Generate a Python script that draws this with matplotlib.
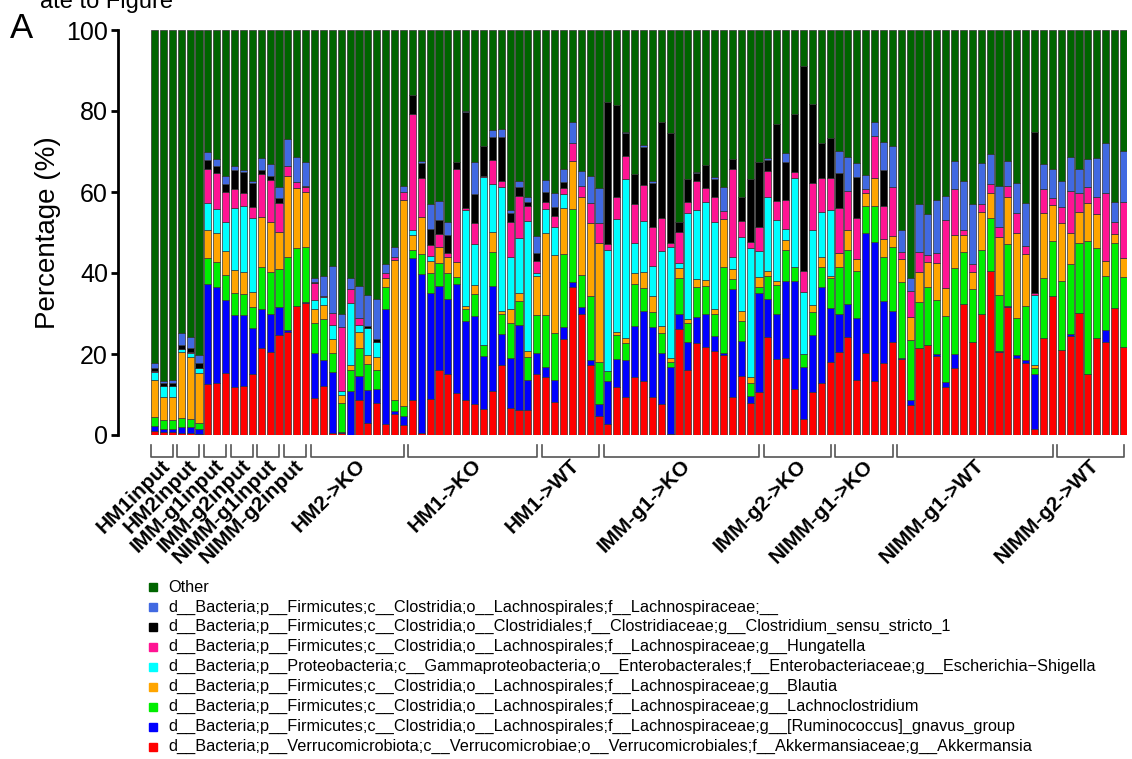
import numpy as np
import matplotlib.pyplot as plt
from matplotlib.lines import Line2D
from matplotlib.transforms import blended_transform_factory

plt.rcParams['font.family'] = ['Liberation Sans', 'DejaVu Sans']

W, H = 1132, 759

###### groups (sample blocks along x) ######
groups = ["HM1input", "HM2input", "IMM-g1input", "IMM-g2input", "NIMM-g1input", "NIMM-g2input",
          "HM2->KO", "HM1->KO", "HM1->WT", "IMM-g1->KO", "IMM-g2->KO", "NIMM-g1->KO",
          "NIMM-g1->WT", "NIMM-g2->WT"]
group_sizes = [3, 3, 3, 3, 3, 3, 11, 15, 7, 18, 8, 7, 18, 8]

###### upper edge (%) of each taxon in the stack ######
akkermansia_top = [
    1.1, 0.8, 0.8, 0.4, 0.4, 0.3, 12.5, 12.9, 15.4, 11.8,
    12.1, 15.0, 21.4, 20.6, 24.7, 25.5, 31.9, 32.5, 9.2, 12.1,
    0.4, 0.5, 0.0, 8.6, 3.0, 7.8, 2.7, 5.3, 2.5, 8.6,
    0.4, 8.8, 16.0, 15.1, 10.3, 8.6, 7.7, 6.3, 10.9, 17.3,
    6.7, 6.2, 6.2, 15.1, 14.4, 8.2, 23.7, 36.6, 29.9, 17.4,
    4.8, 2.6, 11.9, 9.5, 14.2, 13.4, 9.5, 7.6, 0.2, 26.1,
    16.0, 22.6, 21.8, 20.7, 19.8, 9.3, 14.6, 8.0, 10.7, 24.3,
    18.7, 18.9, 11.3, 3.9, 10.5, 12.8, 18.1, 20.4, 24.3, 13.7,
    20.2, 13.4, 17.7, 23.0, 18.7, 7.4, 21.6, 22.2, 19.5, 11.9,
    16.6, 32.3, 23.0, 29.9, 40.6, 20.4, 31.5, 18.9, 17.7, 1.6,
    24.0, 34.2, 21.0, 24.4, 30.2, 15.1, 23.9, 23.0, 31.3, 21.8]
gnavus_top = [
    2.1, 1.4, 1.4, 1.9, 1.9, 1.4, 37.4, 36.6, 33.3, 29.6,
    29.6, 26.3, 31.0, 30.0, 31.7, 25.9, 31.9, 32.9, 20.3, 18.5,
    15.6, 0.8, 10.9, 14.6, 11.1, 11.3, 31.0, 6.0, 4.7, 43.6,
    39.8, 35.0, 36.8, 33.5, 37.4, 28.1, 29.5, 19.5, 36.9, 24.9,
    18.9, 27.2, 13.6, 20.2, 16.9, 13.7, 26.6, 37.9, 31.5, 18.5,
    7.6, 13.4, 18.7, 18.4, 26.9, 30.5, 26.7, 20.2, 16.9, 30.0,
    23.0, 29.2, 29.8, 24.4, 20.2, 36.0, 23.3, 9.6, 35.0, 33.7,
    30.0, 38.1, 38.1, 16.9, 24.7, 36.6, 31.3, 29.9, 32.3, 29.0,
    49.8, 47.7, 33.1, 30.5, 18.9, 8.7, 21.6, 22.2, 20.0, 13.0,
    19.9, 32.3, 23.0, 29.9, 40.6, 20.8, 31.9, 19.8, 18.4, 15.1,
    24.0, 34.2, 21.0, 25.0, 30.2, 15.1, 23.9, 25.9, 31.3, 21.8]
lachnoclostridium_top = [
    4.5, 3.7, 3.7, 4.1, 3.9, 3.0, 43.6, 42.8, 39.5, 35.1,
    34.8, 31.7, 41.4, 40.2, 40.9, 44.0, 46.1, 46.5, 27.7, 28.6,
    20.3, 8.0, 16.0, 21.4, 17.5, 16.0, 36.5, 8.6, 7.2, 45.8,
    44.7, 39.9, 42.4, 39.9, 38.9, 31.0, 34.8, 22.2, 45.1, 29.9,
    27.6, 33.1, 19.3, 29.6, 29.6, 25.3, 44.6, 55.7, 39.5, 34.2,
    18.1, 15.9, 24.7, 22.8, 37.4, 36.2, 30.3, 25.1, 18.1, 38.7,
    27.6, 36.6, 36.9, 29.8, 41.4, 38.4, 28.1, 12.8, 36.6, 39.3,
    37.0, 45.7, 41.6, 19.9, 30.3, 41.6, 38.7, 41.6, 45.8, 40.6,
    56.5, 56.6, 43.9, 46.3, 37.9, 23.5, 32.9, 36.6, 33.3, 29.4,
    41.2, 45.3, 36.0, 45.7, 53.7, 34.6, 47.2, 28.8, 31.9, 16.5,
    38.7, 48.0, 38.1, 42.2, 47.5, 48.0, 46.1, 39.3, 47.5, 39.1]
blautia_top = [
    13.6, 9.5, 9.5, 20.6, 19.3, 15.4, 50.6, 50.0, 45.5, 40.7,
    40.3, 35.4, 53.9, 52.7, 50.1, 64.0, 60.9, 59.9, 31.0, 32.1,
    23.6, 9.9, 17.3, 25.5, 19.8, 19.2, 38.8, 43.2, 58.0, 49.5,
    53.9, 43.0, 46.3, 43.9, 42.8, 31.9, 37.0, 22.2, 50.2, 30.6,
    31.0, 35.0, 20.8, 39.3, 49.8, 44.4, 56.0, 67.7, 58.7, 52.3,
    47.5, 15.9, 25.5, 23.9, 39.9, 40.3, 34.3, 26.9, 18.9, 41.2,
    28.6, 38.5, 38.3, 31.0, 53.3, 40.9, 30.5, 14.4, 39.1, 40.6,
    38.0, 48.1, 41.6, 19.9, 32.1, 44.0, 39.3, 45.0, 50.6, 43.4,
    59.8, 63.4, 48.4, 49.1, 43.4, 29.1, 40.2, 42.8, 42.4, 36.2,
    49.4, 49.4, 40.3, 55.1, 59.7, 48.8, 58.8, 50.0, 44.6, 17.3,
    54.9, 56.8, 52.4, 50.0, 55.1, 57.4, 54.6, 43.0, 49.6, 43.6]
escherichia_top = [
    15.6, 12.1, 12.1, 21.2, 20.3, 16.5, 57.2, 55.8, 52.7, 56.0,
    56.5, 53.5, 53.9, 52.7, 50.1, 64.0, 60.9, 59.9, 33.3, 34.0,
    27.2, 10.9, 32.5, 27.2, 26.3, 23.0, 38.8, 43.2, 58.0, 50.6,
    53.9, 44.2, 46.3, 43.9, 42.8, 55.6, 47.1, 63.6, 62.0, 61.2,
    43.9, 48.7, 52.9, 40.1, 55.8, 51.4, 59.5, 67.7, 58.7, 52.3,
    47.5, 45.8, 53.3, 63.1, 47.5, 52.8, 41.8, 45.5, 46.3, 42.4,
    54.7, 55.6, 57.6, 52.7, 53.3, 43.9, 49.0, 46.1, 45.5, 58.7,
    53.1, 50.8, 63.4, 35.4, 50.6, 55.1, 55.6, 45.0, 50.6, 43.4,
    59.8, 63.4, 48.4, 49.1, 43.4, 29.1, 40.2, 42.8, 42.4, 36.2,
    49.4, 49.4, 40.3, 55.1, 59.7, 48.8, 58.8, 50.0, 44.6, 34.6,
    54.9, 56.8, 52.4, 50.0, 55.1, 57.4, 54.6, 43.0, 49.6, 43.6]
hungatella_top = [
    15.8, 12.2, 12.2, 21.3, 20.4, 16.6, 65.8, 64.6, 59.9, 60.7,
    59.8, 56.2, 64.4, 63.0, 57.4, 66.3, 62.4, 61.3, 37.6, 34.2,
    30.2, 26.7, 36.0, 28.8, 26.3, 23.0, 39.9, 44.0, 60.1, 79.2,
    63.4, 46.9, 49.6, 44.9, 65.7, 56.1, 52.4, 64.0, 67.9, 62.7,
    52.7, 59.0, 56.5, 43.0, 57.6, 54.1, 60.9, 72.2, 61.6, 57.2,
    52.3, 47.2, 58.7, 68.9, 57.0, 61.7, 51.3, 53.7, 47.3, 50.2,
    57.6, 62.8, 60.9, 58.8, 55.4, 65.7, 52.9, 47.7, 51.4, 65.2,
    57.8, 58.0, 65.0, 40.6, 62.1, 63.4, 63.4, 56.0, 60.3, 53.7,
    60.7, 73.8, 56.5, 61.3, 45.3, 35.5, 45.3, 44.4, 45.0, 53.1,
    60.7, 50.6, 42.2, 57.0, 62.0, 51.4, 61.6, 54.7, 46.7, 35.0,
    60.7, 58.4, 56.4, 60.3, 59.7, 61.3, 58.8, 59.7, 52.7, 57.6]
clostridium_top = [
    16.5, 12.8, 12.8, 22.2, 21.4, 17.7, 67.9, 66.5, 62.0, 65.4,
    65.0, 62.3, 65.4, 64.0, 58.6, 66.3, 62.4, 61.5, 37.7, 34.2,
    30.2, 26.7, 36.0, 28.8, 26.9, 23.8, 39.9, 44.0, 60.1, 84.0,
    67.2, 50.8, 53.1, 49.5, 67.5, 79.7, 59.5, 71.4, 73.5, 73.7,
    54.9, 61.2, 57.6, 45.0, 59.9, 56.4, 62.4, 72.2, 61.6, 57.2,
    52.3, 82.1, 81.5, 74.5, 64.4, 71.0, 62.1, 77.4, 74.5, 52.5,
    63.2, 64.6, 66.7, 63.1, 55.4, 68.1, 58.8, 63.1, 67.5, 67.9,
    76.8, 67.5, 79.2, 91.1, 81.7, 72.0, 73.3, 64.8, 60.3, 63.8,
    60.7, 73.8, 65.4, 61.3, 45.3, 35.5, 45.3, 44.4, 45.0, 53.1,
    60.7, 50.6, 42.2, 57.0, 62.0, 51.4, 61.6, 54.7, 46.7, 74.7,
    60.7, 58.4, 56.4, 60.3, 59.7, 61.3, 58.8, 59.7, 52.7, 57.6]
lachno_unclass_top = [
    17.7, 13.4, 13.6, 25.1, 24.1, 19.8, 69.8, 68.1, 63.9, 66.3,
    65.4, 62.6, 68.5, 66.9, 61.3, 73.1, 68.7, 67.5, 38.7, 39.3,
    41.7, 29.9, 38.8, 36.9, 34.6, 33.7, 42.2, 46.3, 61.5, 84.0,
    67.7, 57.0, 57.8, 52.7, 67.5, 80.0, 67.5, 71.4, 75.3, 75.6,
    55.6, 62.8, 58.7, 49.1, 63.0, 59.7, 65.8, 77.2, 65.3, 64.0,
    60.9, 82.1, 81.5, 74.9, 64.4, 71.6, 62.8, 77.4, 74.5, 52.5,
    63.2, 65.0, 66.7, 63.8, 61.3, 68.1, 58.8, 63.1, 67.5, 68.3,
    76.8, 69.7, 79.2, 91.1, 81.7, 72.0, 73.3, 70.2, 68.7, 67.2,
    64.2, 77.4, 72.4, 71.4, 50.5, 38.7, 57.0, 54.6, 58.0, 59.0,
    67.7, 62.8, 57.0, 67.1, 69.5, 61.5, 67.7, 62.1, 57.2, 74.7,
    66.9, 65.8, 62.8, 68.7, 65.6, 68.1, 68.3, 72.0, 57.6, 70.2]

# stack order bottom -> top, "Other" fills up to 100
taxa = [
    "d__Bacteria;p__Verrucomicrobiota;c__Verrucomicrobiae;o__Verrucomicrobiales;f__Akkermansiaceae;g__Akkermansia",
    "d__Bacteria;p__Firmicutes;c__Clostridia;o__Lachnospirales;f__Lachnospiraceae;g__[Ruminococcus]_gnavus_group",
    "d__Bacteria;p__Firmicutes;c__Clostridia;o__Lachnospirales;f__Lachnospiraceae;g__Lachnoclostridium",
    "d__Bacteria;p__Firmicutes;c__Clostridia;o__Lachnospirales;f__Lachnospiraceae;g__Blautia",
    "d__Bacteria;p__Proteobacteria;c__Gammaproteobacteria;o__Enterobacterales;f__Enterobacteriaceae;g__Escherichia\u2212Shigella",
    "d__Bacteria;p__Firmicutes;c__Clostridia;o__Lachnospirales;f__Lachnospiraceae;g__Hungatella",
    "d__Bacteria;p__Firmicutes;c__Clostridia;o__Clostridiales;f__Clostridiaceae;g__Clostridium_sensu_stricto_1",
    "d__Bacteria;p__Firmicutes;c__Clostridia;o__Lachnospirales;f__Lachnospiraceae;__",
    "Other",
]
colors = ["#FF0000", "#0000FF", "#00EE00", "#FFA500", "#00FFFF", "#FF1493", "#000000", "#4169E1", "#006400"]

tops = np.array([akkermansia_top, gnavus_top, lachnoclostridium_top, blautia_top, escherichia_top,
                 hungatella_top, clostridium_top, lachno_unclass_top])
n = tops.shape[1]
edges = np.vstack([np.zeros(n), tops, np.full(n, 100.0)])

fig = plt.figure(figsize=(W / 100, H / 100), dpi=100)
ax = fig.add_axes([151 / W, 1 - 435 / H, (1127 - 151) / W, 405 / H])

x = np.arange(n)
for k in range(len(taxa)):
    ax.bar(x, edges[k + 1] - edges[k], bottom=edges[k], width=0.8, color=colors[k],
           edgecolor="#333333", linewidth=0.5)

ax.set_xlim(-0.4, n - 0.6)
ax.set_ylim(0, 100)
ax.set_xticks([])
for s in ["top", "right", "bottom"]:
    ax.spines[s].set_visible(False)
ax.spines["left"].set_position(("outward", 24))
ax.spines["left"].set_linewidth(2)
ax.spines["left"].set_bounds(0, 100)
ax.set_yticks([0, 20, 40, 60, 80, 100])
ax.tick_params(axis="y", labelsize=18, width=2, length=5, pad=2)
ax.set_ylabel("Percentage (%)", fontsize=20, labelpad=4)

# group brackets + rotated labels
tr = blended_transform_factory(ax.transData, ax.transAxes)
y_top = (435 - 445) / 405
y_bot = (435 - 457) / 405
start = 0
for name, size in zip(groups, group_sizes):
    x0 = start - 0.45
    x1 = start + size - 1 + 0.05
    ax.plot([x0, x0, x1, x1], [y_top, y_bot, y_bot, y_top], color="#555555", lw=1.2,
            transform=tr, clip_on=False)
    xc = start + (size - 1) / 2 + 1.2
    ax.text(xc, (435 - 456) / 405, name, transform=tr, rotation=45, ha="right", va="top",
            fontsize=15, fontweight="bold")
    start += size

fig.text(10 / W, 1 - 38 / H, "A", fontsize=25)
# caption line cut off by the top edge of the image
fig.text(40 / W, 1 - 8 / H, "ate to Figure", fontsize=17)

# legend, top entry = top of stack
for k, (lab, col) in enumerate(zip(taxa[::-1], colors[::-1])):
    yy = 1 - (587 + 19.95 * k) / H
    fig.add_artist(Line2D([153 / W], [yy], marker="s", markersize=6, color=col, linestyle="none",
                          transform=fig.transFigure))
    fig.text(168 / W, yy, lab, fontsize=11.7, va="center")

fig.savefig("out.png", dpi=100)
